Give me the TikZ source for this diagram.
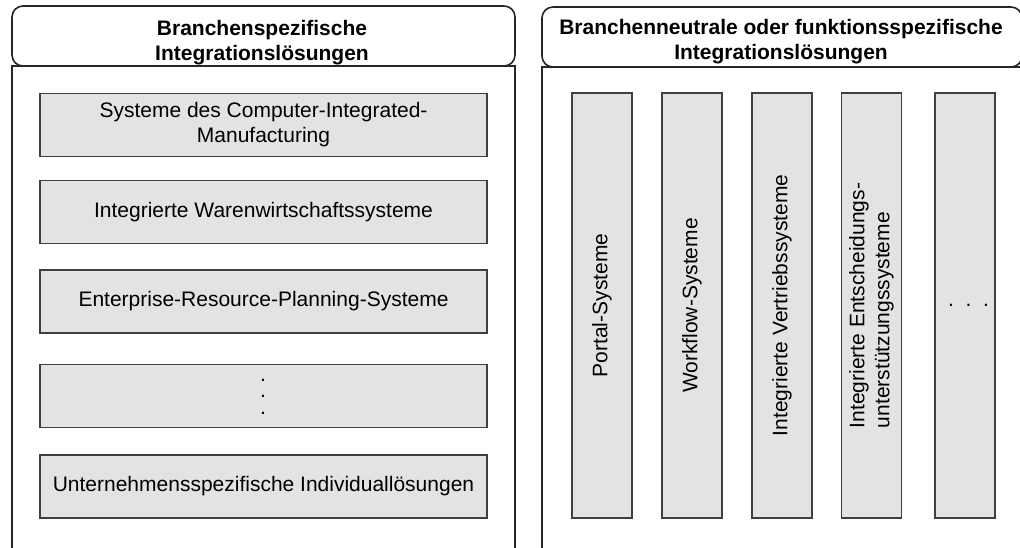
\documentclass[tikz,border=0pt]{standalone}
\usepackage{fontspec}
\setmainfont{Liberation Sans}
\begin{document}
\begin{tikzpicture}[x=1pt,y=-1pt,
  panel/.style={draw=black!85, line width=1.6pt},
  head/.style={panel, rounded corners=11pt, fill=white},
  headtext/.style={inner sep=0pt, align=center, font=\fontsize{21}{25}\selectfont\bfseries},
  box/.style={draw=black!75, line width=1.2pt, fill=black!11, inner sep=2pt, align=center,
    font=\fontsize{21}{25}\selectfont},
  rowbox/.style={box, minimum width=447pt, minimum height=63pt},
  colbox/.style={box, rotate=90, minimum width=425pt, minimum height=60pt},
  dots/.style={inner sep=0pt, align=center, font=\fontsize{21}{16.5}\selectfont}
]
\useasboundingbox (0,0) rectangle (1020,547);
\clip (0,0) rectangle (1020,547);

% left panel: branch-specific solutions
\draw[panel] (12,560) -- (12,66) -- (515,66) -- (515,560);
\node[head, minimum width=503pt, minimum height=60pt] (lhead) at (263.5,36) {};
\node[headtext, anchor=north] (ltitle) at (262,20.3) {Branchenspezifische\\Integrationslösungen};

\node[rowbox] (cim) at (263.5,125) {Systeme des Computer-Integrated-\\Manufacturing};
\node[rowbox] (wws) at (263.5,212) {Integrierte Warenwirtschaftssysteme};
\node[rowbox] (erp) at (263.5,301.5) {Enterprise-Resource-Planning-Systeme};
\node[rowbox] (more) at (263.5,396) {};
\node[dots] (vdots) at (263,396.5) {.\\.\\.};
\node[rowbox] (indiv) at (263.5,486.5) {Unternehmensspezifische Individuallösungen};

% right panel: branch-neutral or function-specific solutions
\draw[panel] (542,560) -- (542,67) -- (1030,67);
\node[head, minimum width=480pt, minimum height=60pt] (rhead) at (782,37) {};
\node[headtext, anchor=north] (rtitle) at (781,18.6) {Branchenneutrale oder funktionsspezifische\\Integrationslösungen};

\node[colbox] (portal) at (602,305.5) {Portal-Systeme};
\node[colbox] (wf) at (692,305.5) {Workflow-Systeme};
\node[colbox] (vert) at (782,305.5) {Integrierte Vertriebssysteme};
\node[colbox, align=left] (eus) at (871.5,305.5) {Integrierte Entscheidungs-\\unterstützungssysteme};
\node[colbox] (etc) at (965,305.5) {};
\node[dots] (hdots) at (968.5,305) {.\hspace{11.7pt}.\hspace{11.7pt}.};
\end{tikzpicture}
\end{document}
